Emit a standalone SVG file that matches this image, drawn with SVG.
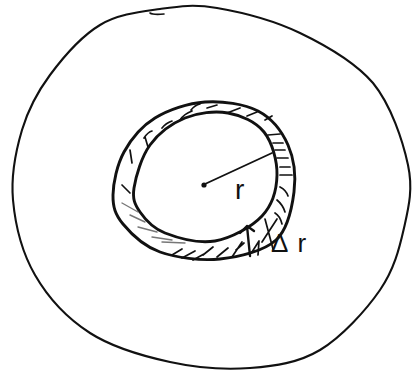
<svg xmlns="http://www.w3.org/2000/svg" width="414" height="377" viewBox="0 0 414 377">
<style>
.ink{fill:none;stroke:#111;stroke-linecap:round;stroke-linejoin:round}
.big{stroke-width:2.1}
.ring{stroke-width:2.9}
.hatch{stroke-width:1.7}
.gray{fill:none;stroke:#777;stroke-width:1.4;stroke-linecap:round}
.lbl{font-family:"Liberation Sans",Arial,sans-serif;fill:#111}
</style>
<rect width="414" height="377" fill="#fff"/>
<g id="outer-circle">
<path class="ink big" d="M13,200 C10.8,175.8 15.8,150.8 22,130 C28.2,109.2 37,92.5 50,75 C63,57.5 81.7,36 100,25 C118.3,14 140.5,11.8 160,9 C179.5,6.2 193.7,4 217,8 C240.3,12 274,20.5 300,33 C326,45.5 354.7,61.8 373,83 C391,105 402.8,140.8 408,165 C413.2,189.2 408.7,207.2 404,228 C399.3,248.8 394,269.7 380,290 C366,310.3 341.7,337 320,350 C298.3,363 275,366 250,368 C225,370 196.7,367.8 170,362 C143.3,356.2 112.5,347.5 90,333 C67.5,318.5 47.8,297.2 35,275 C22.2,252.8 15.2,224.2 13,200 Z"/>
<path class="ink" stroke-width="1.6" d="M150,13 Q153,15 164,14"/>
</g>
<g id="ring">
<path class="ink ring" d="M113,195 C113.2,183 117,164.8 124,152 C131,139.2 141.5,126.3 155,118 C168.5,109.7 187.8,103.2 205,102 C222.2,100.8 244.2,103.8 258,111 C271.8,118.2 282,131.5 288,145 C294,158.5 296,176.2 294,192 C292,207.8 288.3,228.8 276,240 C263.7,251.2 239.3,257 220,259 C200.7,261 176.2,257.8 160,252 C143.8,246.2 130.8,233.5 123,224 C115.2,214.5 112.8,207 113,195 Z"/>
<path class="ink ring" d="M134,188 C135.7,176.8 141.5,156.7 150,145 C158.5,133.3 172,123.3 185,118 C198,112.7 214.8,110.7 228,113 C241.2,115.3 255.8,121.7 264,132 C272.2,142.3 277.3,161 277,175 C276.7,189 272.3,205 262,216 C251.7,227 231.2,238.2 215,241 C198.8,243.8 177.5,237.8 165,233 C152.5,228.2 145.2,219.5 140,212 C134.8,204.5 132.3,199.2 134,188 Z"/>
<g id="hatching">
<path class="ink hatch" d="M122,185 L130,193 M130,150 L132,163 M145,137 L148,147 M144,138 Q148,132 152,131 M162,128 Q166,123 172,121 M180,120 Q184,114 192,111 M191,110 Q195,105 200,104 M207,108 L217,105 M227,113 L240,108 M247,116 L257,112 M265,120 L272,116 M268,135 L280,134 M273,143 L283,143 M275,150 L285,150 M277,158 L288,158 M280,167 L290,167 M280,175 L292,175 M280,187 Q286,190 288,196 M277,200 Q283,205 285,212 M275,213 Q280,216 282,224 M203,255 L213,247 M217,257 L228,248 M182,258 L195,251 M193,260 L204,254 M172,255 L182,249"/>
<path class="gray" d="M122,203 L138,212 M130,215 L145,222 M138,227 L157,232 M152,237 L172,240 M162,242 L185,243"/>
<path class="ink hatch" d="M232,257 L242,242 M236,250 L244,243 M252,252 L259,241 L258,255 M265,219 L273,249 M277,219 L262,242"/>
</g>
</g>
<g id="center">
<circle cx="204" cy="185" r="2.6" fill="#111"/>
</g>
<g id="connectors">
<path class="ink" stroke-width="1.9" d="M205,184 L272,153"/>
<path class="ink" stroke-width="2.4" d="M250,256 L247,226 M240,233 L247,226 L254,231"/>
</g>
<g id="labels">
<text class="lbl" x="235" y="199" font-size="28">r</text>
<text class="lbl" x="271" y="252" font-size="26">Δ<tspan dx="9">r</tspan></text>
</g>
</svg>
